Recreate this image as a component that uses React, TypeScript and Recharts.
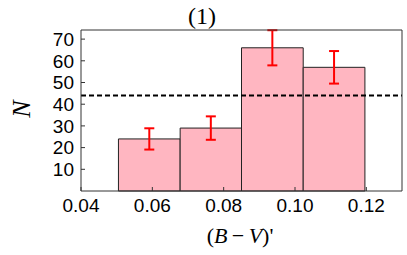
import React from 'react';
import {
  ComposedChart,
  Scatter,
  ErrorBar,
  XAxis,
  YAxis,
  ReferenceArea,
  ReferenceLine
} from 'recharts';

// histogram bins
const binEdges = [0.0505, 0.0678, 0.085, 0.1023, 0.1196];
const counts = [24, 29, 66, 57];
const errors = [4.9, 5.4, 8.1, 7.5];
const meanLevel = 44;

const xTicks = [0.04, 0.06, 0.08, 0.1, 0.12];
const yTicks = [10, 20, 30, 40, 50, 60, 70];
const xDomain = [0.04, 0.13];
const yDomain = [0, 74.2];

const W = 407;
const H = 255;

const points = counts.map((n, i) => ({
  x: (binEdges[i] + binEdges[i + 1]) / 2,
  n,
  err: errors[i]
}));

const tickFont = { fontFamily: 'Liberation Sans, Arial, sans-serif', fontSize: 19, fill: '#000' };
const axisColor = '#333';

const App: React.FC = () => {
  return (
    <div style={{ position: 'absolute', left: 0, top: 0, width: W, height: H, background: '#fff' }}>
      <ComposedChart
        width={W}
        height={H}
        data={points}
        margin={{ top: 29, right: 4, bottom: 0, left: 0 }}
      >
        <XAxis
          dataKey="x"
          type="number"
          domain={xDomain}
          ticks={xTicks}
          interval={0}
          allowDataOverflow
          tickFormatter={(v: number) => v.toFixed(2)}
          tick={tickFont}
          tickSize={-4}
          tickMargin={12}
          height={64}
          axisLine={{ stroke: axisColor }}
          tickLine={{ stroke: axisColor }}
        />
        <XAxis
          xAxisId="top"
          orientation="top"
          type="number"
          domain={xDomain}
          ticks={xTicks}
          interval={0}
          allowDataOverflow
          tick={false}
          tickSize={-4}
          height={1}
          axisLine={{ stroke: axisColor }}
          tickLine={{ stroke: axisColor }}
        />
        <YAxis
          type="number"
          domain={yDomain}
          ticks={yTicks}
          interval={0}
          allowDataOverflow
          tick={tickFont}
          tickSize={-4}
          tickMargin={11}
          width={81}
          axisLine={{ stroke: axisColor }}
          tickLine={{ stroke: axisColor }}
        />
        <YAxis
          yAxisId="right"
          orientation="right"
          type="number"
          domain={yDomain}
          ticks={yTicks}
          interval={0}
          allowDataOverflow
          tick={false}
          tickSize={-4}
          width={1}
          axisLine={{ stroke: axisColor }}
          tickLine={{ stroke: axisColor }}
        />

        {counts.map((n, i) => (
          <ReferenceArea
            key={i}
            x1={binEdges[i]}
            x2={binEdges[i + 1]}
            y1={0}
            y2={n}
            fill="#ffb6c1"
            fillOpacity={1}
            stroke="#222"
            strokeWidth={1}
            strokeOpacity={1}
          />
        ))}

        <ReferenceLine
          y={meanLevel}
          stroke="#000"
          strokeWidth={2}
          strokeDasharray="5 3"
        />

        <Scatter
          dataKey="n"
          isAnimationActive={false}
          shape={() => <g />}
        >
          <ErrorBar
            dataKey="err"
            direction="y"
            width={5}
            stroke="#ff0000"
            strokeWidth={2}
            isAnimationActive={false}
          />
        </Scatter>
      </ComposedChart>

      {/* title and axis labels */}
      <svg
        width={W}
        height={H}
        style={{ position: 'absolute', left: 0, top: 0, pointerEvents: 'none' }}
      >
        <text
          x={202}
          y={24}
          textAnchor="middle"
          fontFamily="Liberation Serif, serif"
          fontSize={24}
        >
          (1)
        </text>
        <text
          transform="translate(30,109) rotate(-90)"
          textAnchor="middle"
          fontFamily="Liberation Serif, serif"
          fontStyle="italic"
          fontSize={26}
        >
          N
        </text>
        <text
          x={240}
          y={243}
          textAnchor="middle"
          fontFamily="Liberation Serif, serif"
          fontSize={22}
        >
          (<tspan fontStyle="italic">B</tspan>{'\u2009\u2212\u2009'}<tspan fontStyle="italic">V</tspan>)'
        </text>
      </svg>
    </div>
  );
};

export default App;
